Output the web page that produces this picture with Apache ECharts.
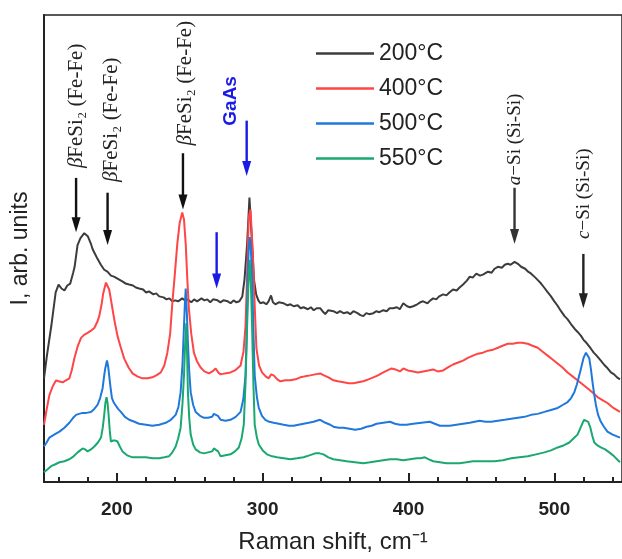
<!DOCTYPE html>
<html>
<head>
<meta charset="utf-8">
<script src="https://cdn.jsdelivr.net/npm/echarts@6/dist/echarts.min.js"></script>
<style>
html, body { margin: 0; padding: 0; background: #fff; }
#chart { width: 622px; height: 559px; }
</style>
</head>
<body>
<div id="chart"></div>
<script>
// legend / series
const legendNames = ['200°C', '400°C', '500°C', '550°C']
const lineColors = ['#3c3c3c', '#ff4545', '#1f78dc', '#1aa870']

// x ticks
const majorTicks = [200, 300, 400, 500]
const minorTicks = [160, 180, 220, 240, 260, 280, 320, 340, 360, 380, 420, 440, 460, 480, 520, 540]

// spectra: [raman shift, intensity (arb.)]
const spec200 = [[150,105],[152,128],[155,158],[158,192],[160,200],[162,196],[164,194],[166,199],[168,201],[170,212],[171,218],[173,240],[175,247],[177.6,252],[180,249],[182,242],[183.3,236],[185,231],[186.7,226],[189,220],[191.3,215],[193.5,213],[195.9,209],[198,208],[201.6,205],[204,203],[206,201],[208.4,200],[211,199],[213,197],[215.2,196],[218,195],[220,192],[222,193],[225,190],[227,191],[229,188],[232,187],[234,185],[236,186],[238,183],[240,184],[242,183],[244.8,186],[246.5,184],[248.3,185],[251,182],[253,185],[255,183],[258,186],[260,184],[262,185],[264,182],[266,185],[269,184],[271,182],[273,184],[276,183],[278,181],[280,184],[282,182],[284,183],[286,188],[287.5,205],[289.3,241],[290.9,288],[292.7,241],[294,205],[295.5,190],[297,184],[298.4,181],[300.5,182],[302.5,180],[304,183],[305.7,189],[307,182],[308.7,180],[311,182],[314.4,181],[317,179],[319,180],[321.2,178],[324,179],[326,176],[328,177],[331,175],[333,177],[335,174],[337,176],[339.4,176],[341,173],[342.9,170],[345,174],[348.5,173],[351,171],[353,173],[355.4,171],[358,172],[360,170],[362.2,173],[365,171],[367,169],[369,168],[371,171],[373,170],[375.9,171],[378,173],[380,172],[382.7,174],[385,173],[387,176],[389.5,176],[392,177],[394,175],[396.4,181],[399,178],[401,177],[403.2,178],[406,180],[408,182],[410,183],[413,181],[415,184],[416.9,186],[419,185],[421,188],[423.7,190],[426,189],[428,192],[430.5,195],[433,194],[435,197],[437.4,200],[440,204],[442,208],[444,207],[446.5,211],[449,209],[451,210],[454.5,213],[457,212],[459,216],[461.3,218],[464,217],[466,220],[468.1,221],[470,220],[472.7,223],[475,221],[477.2,218],[480,216],[482,213],[484.1,211],[487,207],[489,204],[490.9,201],[493,197],[495,193],[497.7,188],[500,183],[502,179],[504.6,173],[507,168],[509,165],[511.4,160],[514,155],[516,152],[518.3,148],[520,144],[522,141],[525.1,135],[527,131],[529,128],[531.9,123],[534,119],[536,116],[538.8,111],[541,109],[543,106],[545,104]]

const spec400 = [[150,58],[152,75],[153.7,88],[156,97],[158.3,103],[160,102],[162.8,101],[165,103],[167.4,105],[169,113],[170.8,125],[173,137],[175.4,146],[177.5,149],[179.9,151],[182,153],[184.5,156],[186.5,162],[187.9,168],[189.5,180],[190.6,191],[192.5,202],[194.7,195],[196,184],[197,175],[198.5,162],[200.4,148],[202.5,137],[205,125],[208,116],[210.7,110],[214,107],[217.5,105],[221,105],[224.3,106],[227,108],[230.1,111],[232.5,118],[234.6,131],[236.5,150],[238,181],[239.7,210],[241.4,241],[243,262],[244.8,273],[246,266],[247.2,241],[248.3,205],[249.4,175],[251,150],[252.8,131],[255,122],[257.4,116],[260,112],[263.1,110],[265.5,112],[267.7,115],[269.5,111],[271.1,109],[274,110],[277.9,111],[281,113],[284.8,118],[286.8,132],[288.2,158],[289.4,215],[290.4,268],[291.6,276],[292.5,252],[293.4,225],[294.6,175],[295.7,135],[297.5,118],[299.5,111],[302,107],[304.1,105],[305.8,109],[307.5,108],[310,104],[312.1,102],[315.5,103],[318.9,103],[322.5,104],[325.8,106],[329,107],[332.6,108],[336,109],[339.4,110],[342,108],[345.1,106],[348.5,103],[351.5,102],[355.4,101],[359,100],[362.2,100],[365.5,101],[369,102],[372.5,104],[375.9,106],[379,108],[382.7,111],[385.5,113],[388.4,115],[391,114],[394.1,112],[396.4,115],[399.5,113],[403.2,112],[406.5,111],[410,112],[413.5,113],[416.9,114],[420,112],[423.7,113],[427,116],[430.5,119],[434,121],[437.4,123],[441,126],[444.2,128],[447.6,130],[451,131],[454.5,133],[458,134],[461.3,136],[464.5,138],[468.1,140],[471.5,140],[474.9,141],[478,141],[481.7,140],[485,138],[488.6,136],[492,132],[495.4,128],[498.8,124],[502.2,120],[505.6,116],[509.1,111],[512.5,107],[515.9,103],[519.3,99],[522.7,95],[526,91],[529.6,86],[533,83],[536.4,80],[540.5,75],[545,71]]

const spec500 = [[150,36],[151.8,40],[153.7,45],[157,48],[160.6,51],[164,55],[167.4,60],[170,65],[172,68],[174,69],[176.5,70],[179,70],[182.2,71],[184.5,74],[186.7,78],[188.5,85],[190.2,95],[191.2,107],[192,115],[193.2,123],[194,117],[194.7,108],[195.6,96],[196.6,85],[198,80],[199.3,78],[200.8,74],[202.7,71],[205.5,66],[208.4,63],[212,61],[215.2,59],[220,58],[224.3,57],[229,58],[233.5,60],[237,63],[240.3,68],[242.2,76],[243.7,91],[245,120],[246,158],[246.6,180],[247.2,196],[248,170],[248.7,141],[249.6,112],[250.6,91],[252.3,78],[254,71],[257,67],[259.7,65],[262.5,65],[265.3,66],[266.5,69],[267.7,71],[269.3,67],[271.1,63],[274.5,62],[277.9,63],[281.5,66],[284.8,71],[286.7,84],[288.2,108],[289,150],[289.7,208],[290.4,235],[291.1,248],[291.9,235],[292.7,208],[293.6,155],[294.5,108],[296,86],[297.3,75],[299.5,67],[301.8,63],[304.5,61],[307.5,60],[311,59],[314.4,58],[318,57],[321.2,57],[324.5,58],[328,59],[331.5,60],[334.9,61],[337,62],[339.4,63],[343,60],[346.3,58],[348.5,56],[352,55],[355.4,55],[359.5,54],[363.4,53],[367.5,54],[371.3,56],[374.7,57],[378.1,59],[382.7,60],[387.3,61],[390.7,59],[394.1,58],[398.6,58],[403.2,59],[408.9,60],[414.6,61],[418,59],[421.5,57],[425,57],[428.3,57],[432.8,58],[437.4,59],[442,60],[448.8,62],[452.8,61],[456.7,61],[461.3,62],[465.9,63],[470.4,64],[475,65],[479.6,66],[484.1,68],[488.6,69],[493.2,71],[497.7,73],[502.3,75],[505.7,78],[509.1,81],[511.5,85],[513.7,91],[515.5,99],[517.1,108],[518.6,117],[520.1,126],[521.7,131],[522.9,129],[524,125],[525.1,114],[526.2,101],[527.3,89],[528.5,78],[530,68],[531.9,61],[534,56],[536.4,51],[540,48],[545,45]]

const spec550 = [[150,10],[152.5,13],[154.9,16],[157.8,18],[160.6,20],[164,21],[167.4,23],[170.3,26],[173.1,30],[174.8,32],[176.5,34],[178.2,33],[179.9,31],[182.2,33],[184.5,36],[187,40],[189.1,45],[190.3,55],[191.3,68],[192.1,80],[192.9,86],[193.6,80],[194.3,68],[195.1,52],[195.9,41],[197.5,42],[199,42],[200.4,41],[202,36],[203.8,31],[207,27],[210.7,25],[215,25],[219.8,25],[224.5,24],[228.9,24],[232.5,25],[235.7,26],[238,30],[240.3,36],[242,44],[243.7,55],[245,80],[246,108],[246.8,140],[247.6,161],[248.2,125],[248.7,91],[249.6,65],[250.6,48],[252.3,38],[254,33],[257,30],[259.7,29],[262.5,30],[265.3,31],[266.5,34],[267.7,36],[269.4,31],[271.1,26],[274.5,27],[277.9,28],[281,31],[283.6,35],[285.5,44],[287,58],[288.2,100],[289.3,158],[290.2,200],[291.1,225],[291.9,200],[292.7,158],[293.6,100],[294.5,58],[296,45],[297.3,38],[300,32],[302.9,28],[306.5,26],[309.8,25],[314.4,24],[318.9,23],[323.5,24],[328,25],[332,27],[336,29],[339,29],[341.7,28],[345,25],[348.5,23],[353,22],[357.6,21],[363.3,20],[369,19],[373.6,20],[378.1,21],[382.7,22],[387.3,23],[391.9,23],[396.4,22],[401,23],[405.5,24],[408.3,24],[411.2,25],[414,23],[416.9,21],[421.5,20],[426,19],[430.5,19],[435.1,19],[439.7,20],[444.2,21],[447.6,21],[451.1,21],[455,21],[459,21],[464.7,22],[470.4,24],[476,25],[481.8,26],[487.5,28],[493.2,30],[497.7,32],[502.3,35],[506.3,37],[510.3,40],[513.1,44],[515.9,48],[517.7,54],[519.4,60],[520.5,63],[521.7,65],[523.2,61],[524.7,55],[526,47],[527.4,40],[529.6,37],[531.9,35],[534.8,33],[537.7,30],[541,26],[545,20]]

const spectra = [spec200, spec400, spec500, spec550]

// peak arrows: [shift, from, to, colour]
const arrows = [
  [172, 308, 253, '#111'],
  [193.6, 293, 240, '#111'],
  [245.3, 333, 276, '#111'],
  [289, 366, 310, '#1a1ae6'],
  [268.4, 253, 196, '#1a1ae6'],
  [472.7, 298, 241, '#333'],
  [519.9, 231, 176, '#222']
]

// vertical peak labels: [shift, centre, text, font size]
const peakLabels = [
  [172, 381, '{i|β}FeSi₂ (Fe-Fe)', 21],
  [196.5, 367, '{i|β}FeSi₂ (Fe-Fe)', 21],
  [247, 404, '{i|β}FeSi₂ (Fe-Fe)', 21],
  [472.7, 347, '{i|a}−Si (Si-Si)', 19],
  [520.6, 292, '{i|c}−Si (Si-Si)', 19]
]
const gaasLabel = [277.8, 386, 'GaAs']

const chart = echarts.init(document.getElementById('chart'))

const option = {
  animation: false,
  grid: {
    left: 44, top: 15, width: 580, height: 473,
    show: true, borderColor: '#222', borderWidth: 1.5
  },
  legend: {
    orient: 'vertical',
    left: 311, top: 36,
    icon: 'rect',
    itemWidth: 58, itemHeight: 2.5, itemGap: 10,
    textStyle: { fontFamily: 'Liberation Sans', fontSize: 23, color: '#222', lineHeight: 25 },
    data: legendNames
  },
  xAxis: [
    {
      type: 'value', min: 150, max: 546.4,
      axisLine: { show: true, onZero: false, lineStyle: { color: '#222', width: 2 } },
      axisTick: { show: true, inside: true, length: 9, customValues: majorTicks, lineStyle: { color: '#222', width: 2 } },
      axisLabel: { customValues: majorTicks, margin: 18, fontFamily: 'Liberation Sans', fontSize: 19, fontWeight: 'bold', color: '#222' },
      splitLine: { show: false },
      name: 'Raman shift, cm⁻¹', nameLocation: 'middle', nameGap: 48,
      nameTextStyle: { fontFamily: 'Liberation Sans', fontSize: 24, color: '#222' }
    },
    {
      type: 'value', min: 150, max: 546.4, position: 'bottom',
      axisLine: { show: false },
      axisTick: { show: true, inside: true, length: 5, customValues: minorTicks, lineStyle: { color: '#222', width: 2 } },
      axisLabel: { show: false },
      splitLine: { show: false }
    }
  ],
  yAxis: {
    type: 'value', min: 0, max: 473,
    axisLine: { show: true, lineStyle: { color: '#222', width: 2 } },
    axisTick: { show: false },
    axisLabel: { show: false },
    splitLine: { show: false },
    name: 'I, arb. units', nameLocation: 'middle', nameGap: 12,
    nameTextStyle: { fontFamily: 'Liberation Sans', fontSize: 23, color: '#222' }
  },
  series: spectra.map((d, i) => ({
    name: legendNames[i],
    type: 'line',
    data: d,
    showSymbol: false,
    symbol: 'none',
    lineStyle: { color: lineColors[i], width: 2 },
    itemStyle: { color: lineColors[i] }
  }))
}

chart.setOption(option)

// annotations placed through the axes
const toPx = (x, y) => chart.convertToPixel({ xAxisIndex: 0, yAxisIndex: 0 }, [x, y])
const graphics = []
arrows.forEach(a => {
  const p1 = toPx(a[0], a[1])
  const p2 = toPx(a[0], a[2])
  graphics.push({
    type: 'line',
    shape: { x1: p1[0], y1: p1[1], x2: p2[0], y2: p2[1] - 12 },
    style: { stroke: a[3], lineWidth: 2.4 }
  })
  graphics.push({
    type: 'polygon',
    shape: { points: [[p2[0] - 4.5, p2[1] - 15], [p2[0] + 4.5, p2[1] - 15], [p2[0], p2[1]]] },
    style: { fill: a[3] }
  })
})
peakLabels.forEach(l => {
  const p = toPx(l[0], l[1])
  graphics.push({
    type: 'text', x: p[0], y: p[1], rotation: Math.PI / 2,
    style: {
      text: l[2], align: 'center', verticalAlign: 'middle',
      fontFamily: 'Liberation Serif', fontSize: l[3], fill: '#222',
      rich: { i: { fontFamily: 'Liberation Serif', fontSize: l[3], fontStyle: 'italic', fill: '#222' } }
    }
  })
})
const gp = toPx(gaasLabel[0], gaasLabel[1])
graphics.push({
  type: 'text', x: gp[0], y: gp[1], rotation: Math.PI / 2,
  style: {
    text: gaasLabel[2], align: 'center', verticalAlign: 'middle',
    fontFamily: 'Liberation Sans', fontSize: 19, fontWeight: 'bold', fill: '#1a1ae6'
  }
})
chart.setOption({ graphic: graphics })
</script>
</body>
</html>
